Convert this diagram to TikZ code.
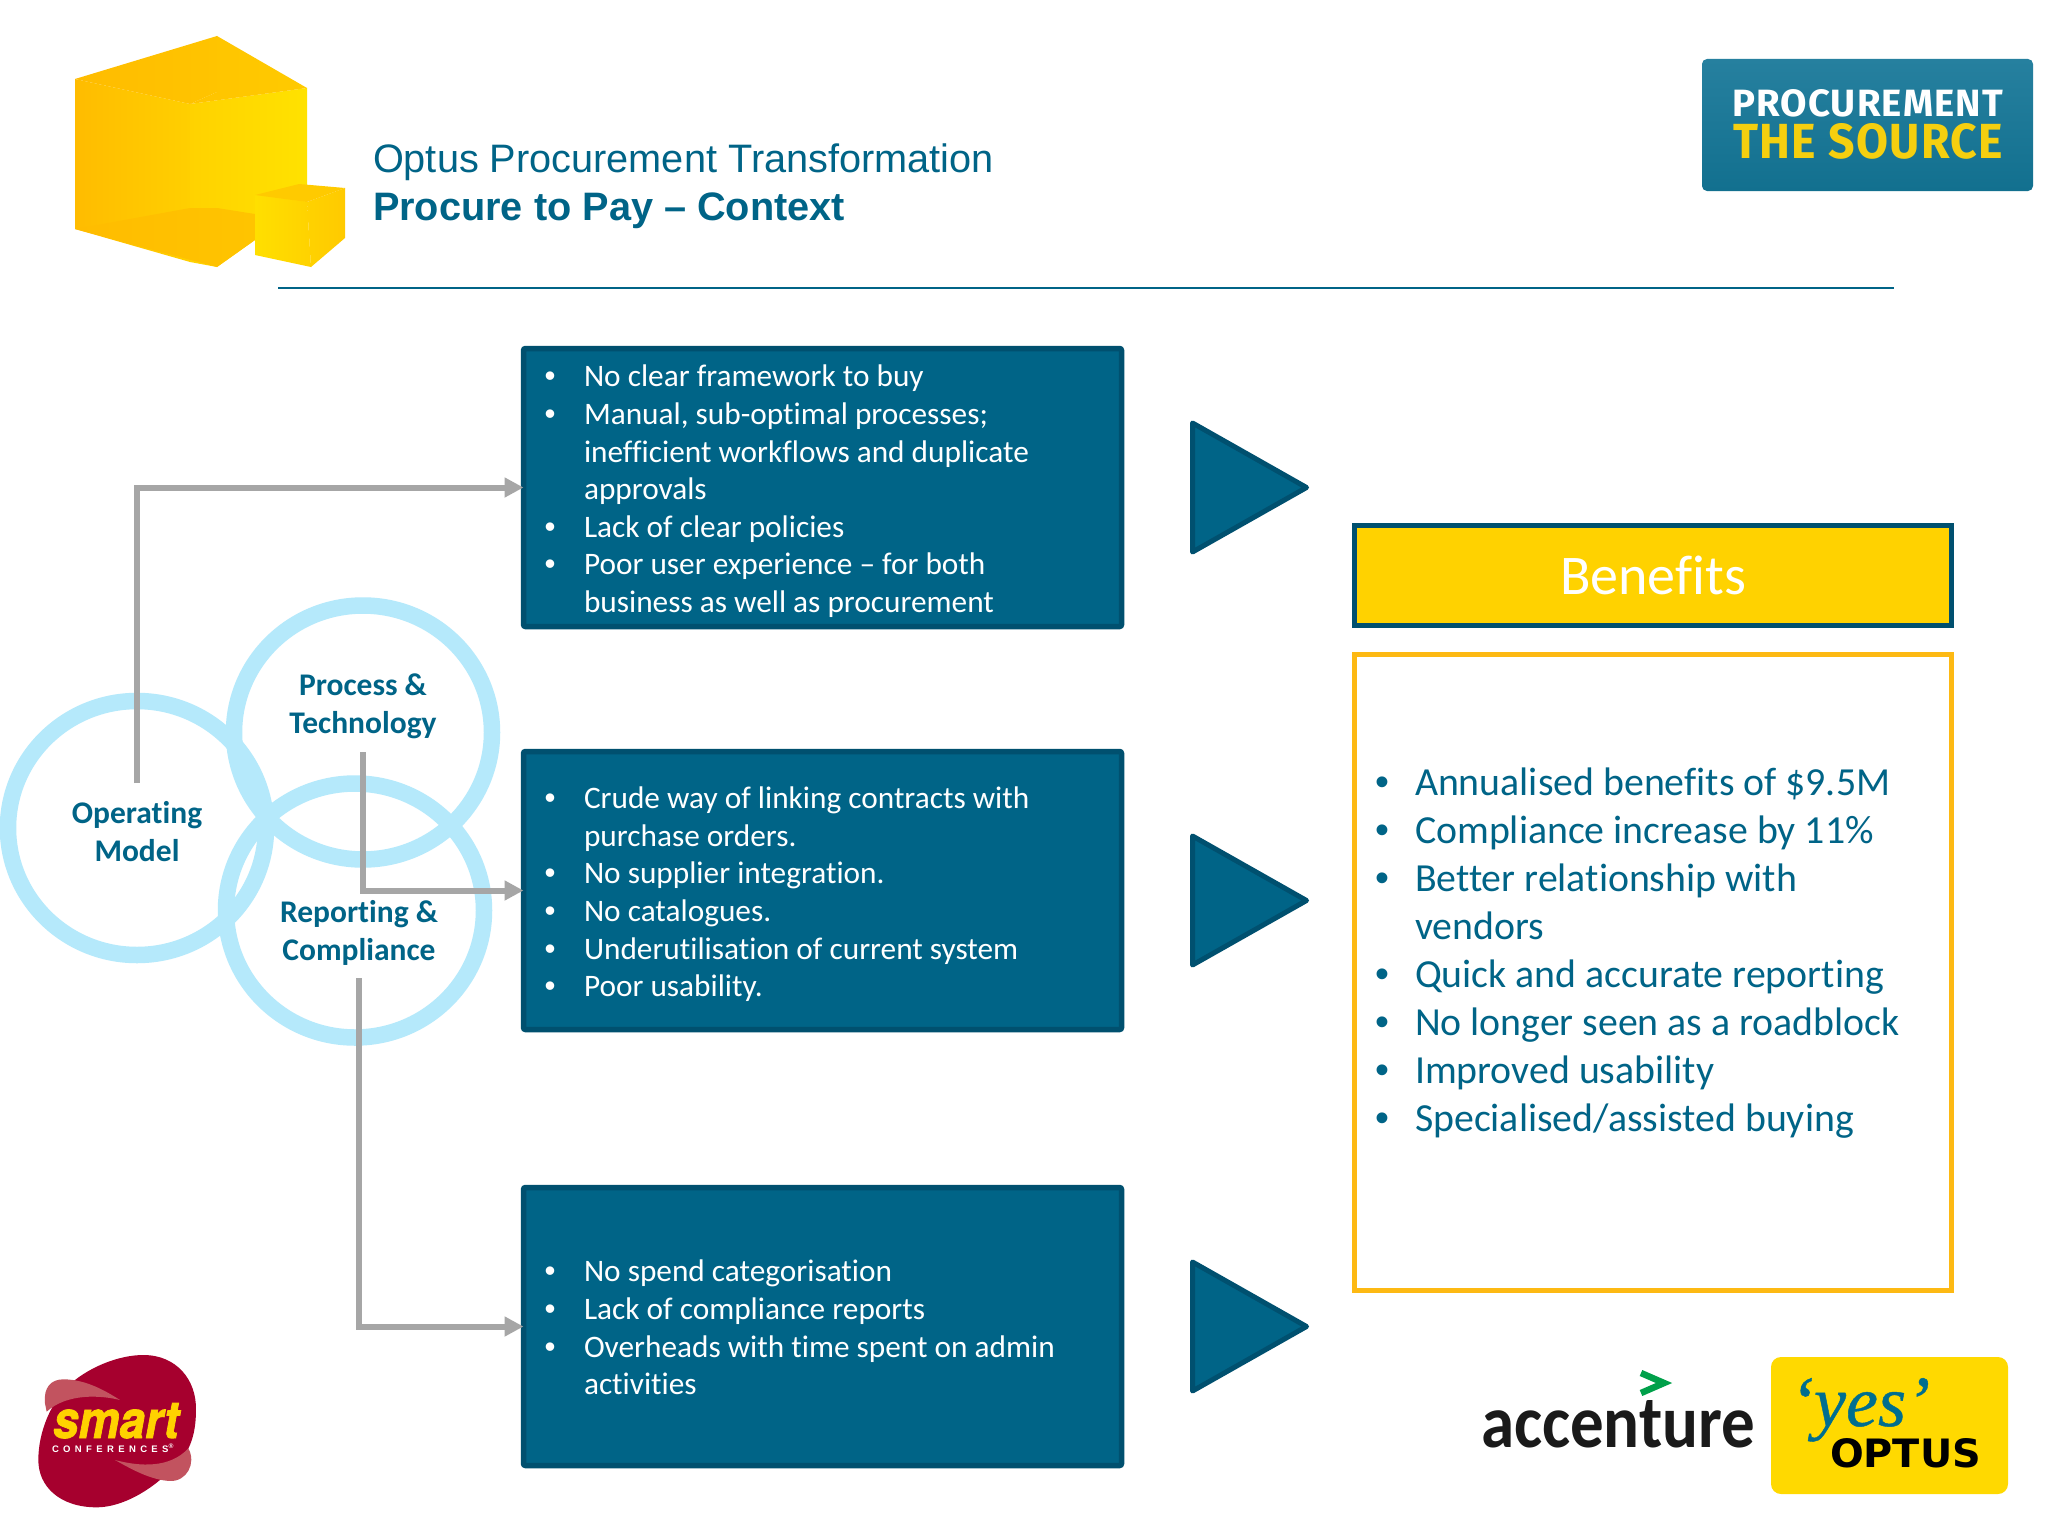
\documentclass[tikz,border=0pt]{standalone}
\usepackage{fontspec}
\usepackage{graphicx}
\usetikzlibrary{arrows.meta,shapes.geometric}
\setmainfont[Ligatures=NoCommon]{Carlito}
\newfontfamily\arialf{Liberation Sans}
\newfontfamily\dinf[LetterSpace=3]{Fira Sans}
\newfontfamily\heavyf{DejaVu Sans}
\newfontfamily\serff[FakeBold=0.6]{Liberation Serif}
\newfontfamily\smartf[FakeBold=1.5]{TeX Gyre Heros}
\newfontfamily\spacedf[LetterSpace=46]{Liberation Sans}
\definecolor{teal}{HTML}{006487}
\definecolor{tealdark}{HTML}{00506F}
\definecolor{ring}{HTML}{B5E9FB}
\definecolor{connc}{HTML}{A6A6A6}
\definecolor{gold}{HTML}{FFD200}
\definecolor{amber}{HTML}{FDB913}
\definecolor{wine}{HTML}{A6002E}
\definecolor{winel}{HTML}{C2535F}
\definecolor{cubeA}{HTML}{FFBC00}
\definecolor{cubeB}{HTML}{FFCF00}
\definecolor{cubeC}{HTML}{FFD200}
\definecolor{cubeD}{HTML}{FFE200}
\definecolor{cubeE}{HTML}{FFC400}
\definecolor{cubeF}{HTML}{FFCA00}
\definecolor{cubeG}{HTML}{FFDF00}
\definecolor{srcA}{HTML}{26809F}
\definecolor{srcB}{HTML}{12708F}
\definecolor{srcY}{HTML}{F5CF0F}
\definecolor{optusY}{HTML}{FFD900}
\definecolor{accG}{HTML}{00A04A}
\definecolor{inkk}{HTML}{1A1A1A}
\definecolor{yesc}{HTML}{006E8F}
\newcommand{\firstln}{\rule{0pt}{30pt}}
\newcommand{\firstlg}{\rule{0pt}{40pt}}
\newcommand{\bll}[1]{\llap{\makebox[39.5pt][l]{\arialf •}}#1}
\newcommand{\blg}[1]{\llap{\makebox[40pt][l]{\arialf •}}#1}
\tikzset{
  issue/.style={draw=tealdark,fill=teal,line width=5.5pt,rounded corners=2pt,minimum width=598pt,minimum height=278pt,inner sep=0pt,outer sep=0pt},
  issuetext/.style={anchor=north west,inner sep=0pt,outer sep=0pt,align=left,text=white,font=\fontsize{31.3}{37.65}\selectfont},
  circ/.style={ellipse,draw=ring,line width=16.5pt,minimum width=258pt,minimum height=254pt,inner sep=0pt,outer sep=0pt},
  circtext/.style={anchor=base,inner sep=0pt,outer sep=0pt,align=center,text=teal,font=\fontsize{31.5}{37.5}\selectfont\bfseries},
  connline/.style={draw=connc,line width=6pt,-{Triangle[length=19pt,width=19pt]}},
  tri/.style={draw=tealdark,fill=teal,line width=5pt,line join=round},
  logo/.style={anchor=base west,inner sep=0pt,outer sep=0pt},
}
\begin{document}
\begin{tikzpicture}[x=1pt,y=-1pt]
\useasboundingbox (0,0) rectangle (2048,1536);
\fill[white] (0,0) rectangle (2048,1536);
% cube logo
\shade[left color=cubeA,right color=cubeB] (75,79) -- (190,104) -- (190,262) -- (75,229) -- cycle;
\shade[left color=cubeC,right color=cubeD] (190,104) -- (307,88) -- (307,200) -- (255,240) -- (217,267) -- (190,262) -- cycle;
\shade[left color=cubeA,right color=cubeE] (75,79) -- (217,36) -- (217,92) -- (190,104) -- cycle;
\shade[left color=cubeE,right color=cubeF] (217,36) -- (307,88) -- (190,104) -- (217,92) -- cycle;
\shade[left color=cubeA,right color=cubeE] (75,229) -- (190,208) -- (217,208) -- (255,214) -- (255,240) -- (217,267) -- cycle;
\shade[left color=cubeG,right color=cubeC] (255,195) -- (307,202) -- (311,267) -- (255,255) -- cycle;
\shade[left color=cubeC,right color=cubeF] (307,202) -- (345,188) -- (345,238) -- (311,267) -- cycle;
\fill[cubeF] (255,195) -- (299,184) -- (345,188) -- (307,202) -- cycle;
% title
\node[logo,text=teal,font=\arialf\fontsize{39.7}{45}\selectfont] (title1) at (373,172.5) {Optus Procurement Transformation};
\node[logo,text=teal,font=\arialf\fontsize{39.7}{45}\selectfont\bfseries] (title2) at (373,220) {Procure to Pay – Context};
\draw[teal,line width=2.5pt] (278,288) -- (1894,288);
% source logo
\shade[top color=srcA,bottom color=srcB,rounded corners=5pt] (1702,59) rectangle (2033,191);
\node[logo,text=white] (src1) at (1732,117) {\resizebox{271pt}{27pt}{\dinf\bfseries PROCUREMENT}};
\node[logo,text=srcY] (src2) at (1733,159) {\resizebox{270pt}{35pt}{\dinf\bfseries THE SOURCE}};
% circles
\node[circ] (op) at (137,828) {};
\node[circ] (pt) at (363,732.5) {};
\node[circ] (rc) at (355,910.5) {};
\node[circtext] (optext) at (137,861) {Operating\\Model};
\node[circtext] (pttext) at (363,733) {Process \&\\Technology};
\node[circtext] (rctext) at (359,960) {Reporting \&\\Compliance};
% issue boxes
\node[issue] (box1) at (822.5,487.5) {};
\node[issue] (box2) at (822.5,890.5) {};
\node[issue] (box3) at (822.5,1326.5) {};
\node[issuetext] (t1) at (584,356.7) {\firstln\bll{No clear framework to buy}\\
\bll{Manual, sub-optimal processes;}\\inefficient workflows and duplicate\\approvals\\
\bll{Lack of clear policies}\\
\bll{Poor user experience – for both}\\business as well as procurement};
\node[issuetext] (t2) at (584,778.5) {\firstln\bll{Crude way of linking contracts with}\\purchase orders.\\
\bll{No supplier integration.}\\
\bll{No catalogues.}\\
\bll{Underutilisation of current system}\\
\bll{Poor usability.}};
\node[issuetext] (t3) at (584,1251.7) {\firstln\bll{No spend categorisation}\\
\bll{Lack of compliance reports}\\
\bll{Overheads with time spent on admin}\\activities};
% connectors
\coordinate (opstart) at (137,783);
\coordinate (ptstart) at (362.6,752);
\coordinate (rcstart) at (359,978);
\draw[connline] (opstart) |- (box1.west);
\draw[connline] (ptstart) |- (box2.west);
\draw[connline] (rcstart) |- (box3.west);
% triangles
\draw[tri] (1192.5,423) -- (1306.5,487.5) -- (1192.5,552) -- cycle;
\draw[tri] (1192.5,836) -- (1306.5,900.5) -- (1192.5,965) -- cycle;
\draw[tri] (1192.5,1262) -- (1306.5,1326.5) -- (1192.5,1391) -- cycle;
% benefits
\node[draw=tealdark,fill=gold,line width=5.5pt,minimum width=597pt,minimum height=100pt,inner sep=0pt,text=white,font=\fontsize{56}{60}\selectfont] (benefits) at (1653,575.5) {Benefits};
\node[draw=amber,fill=white,line width=5pt,minimum width=597pt,minimum height=636pt,inner sep=0pt] (benbox) at (1653,972.5) {};
\node[anchor=north west,inner sep=0pt,outer sep=0pt,align=left,text=teal,font=\fontsize{39.8}{48}\selectfont] (bent) at (1415,755.8) {\firstlg\blg{Annualised benefits of \$9.5M}\\
\blg{Compliance increase by 11\%}\\
\blg{Better relationship with}\\vendors\\
\blg{Quick and accurate reporting}\\
\blg{No longer seen as a roadblock}\\
\blg{Improved usability}\\
\blg{Specialised/assisted buying}};
% smart logo
\begin{scope}[shift={(0,1320)},x=0.3333pt,y=-0.3333pt]
\fill[wine] (225,180) .. controls (290,130) and (370,105) .. (430,105) .. controls (530,105) and (590,180) .. (588,270) .. controls (588,330) and (575,370) .. (560,395) .. controls (540,440) and (510,465) .. (480,480) .. controls (420,530) and (350,562) .. (290,562) .. controls (180,562) and (115,500) .. (115,420) .. controls (115,340) and (150,240) .. (225,180) -- cycle;
\fill[winel] (135,250) .. controls (130,200) and (155,178) .. (190,178) .. controls (260,178) and (320,215) .. (360,240) .. controls (300,225) and (200,220) .. (140,275) -- cycle;
\fill[winel] (345,420) .. controls (420,440) and (510,445) .. (565,385) .. controls (590,430) and (560,485) .. (510,483) .. controls (450,480) and (390,445) .. (345,420) -- cycle;
\end{scope}
\node[logo,text=gold] (smart) at (53,1438) {\resizebox{126pt}{35pt}{\smartf\bfseries\itshape smart}};
\node[logo,text=white,font=\spacedf\bfseries\fontsize{9.5}{10}\selectfont] (conf) at (52,1452) {CONFERENCES\textsuperscript{®}};
% accenture
\node[logo,text=inkk] (acc) at (1481,1447) {\resizebox{274pt}{47pt}{\bfseries accenture}};
\draw[accG,line width=6.5pt,line join=miter] (1641,1373) -- (1664,1383) -- (1641,1393);
% optus
\fill[optusY,rounded corners=10pt] (1771,1357) rectangle (2008,1494);
\node[logo,text=yesc] (yes) at (1790,1426) {\resizebox{140pt}{!}{\serff\itshape ‘yes’}};
\node[logo,text=black] (optus) at (1830,1467) {\resizebox{151pt}{29pt}{\heavyf\bfseries OPTUS}};
\end{tikzpicture}
\end{document}
